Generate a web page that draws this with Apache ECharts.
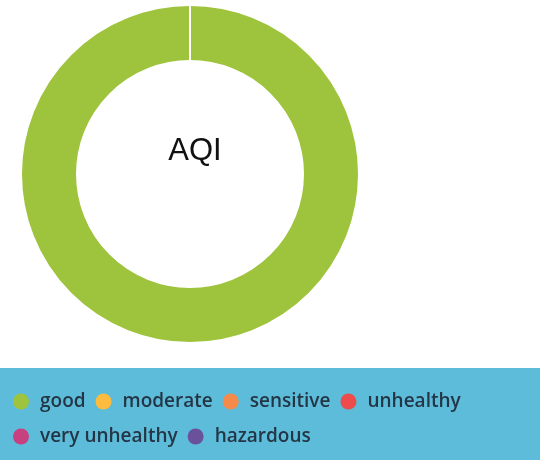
<!DOCTYPE html>
<html>
<head>
<meta charset="utf-8">
<script src="https://cdn.jsdelivr.net/npm/echarts@6/dist/echarts.min.js"></script>
<style>
  html, body { margin: 0; padding: 0; background: #fff; }
  #chart { width: 540px; height: 465px; }
</style>
</head>
<body>
<div id="chart"></div>
<script>
// AQI categories and share of readings
const categories = ['good', 'moderate', 'sensitive', 'unhealthy', 'very unhealthy', 'hazardous'];
const values = [100, 0, 0, 0, 0, 0];
const colors = ['#9ec33c', '#fdbb3f', '#f68a4a', '#ee4c4c', '#c7407f', '#6a519c'];

const chart = echarts.init(document.getElementById('chart'));

const option = {
  animation: false,
  color: colors,
  title: {
    text: 'AQI',
    left: 190,
    top: 131,
    textAlign: 'center',
    textStyle: {
      fontFamily: 'Liberation Sans, Arial, sans-serif',
      fontSize: 31,
      fontWeight: 'normal',
      color: '#111'
    }
  },
  graphic: [{
    type: 'rect',
    z: -1,
    shape: { x: 0, y: 368, width: 540, height: 92 },
    style: { fill: '#5dbcd9' }
  }],
  legend: {
    data: categories,
    left: 8,
    top: 384,
    width: 480,
    icon: 'circle',
    itemWidth: 16,
    itemHeight: 16,
    itemGap: 10,
    itemStyle: { borderWidth: 0 },
    textStyle: {
      fontFamily: 'Open Sans',
      fontSize: 19,
      fontWeight: 600,
      lineHeight: 25,
      color: '#243645',
      padding: [0, 0, 0, 6]
    }
  },
  series: [{
    type: 'pie',
    center: [190, 174],
    radius: [113, 169],
    startAngle: 90,
    label: { show: false },
    labelLine: { show: false },
    stillShowZeroSum: true,
    itemStyle: { borderColor: '#fff', borderWidth: 2 },
    data: categories.map((name, i) => ({ name: name, value: values[i] }))
  }]
};

chart.setOption(option);
</script>
</body>
</html>
